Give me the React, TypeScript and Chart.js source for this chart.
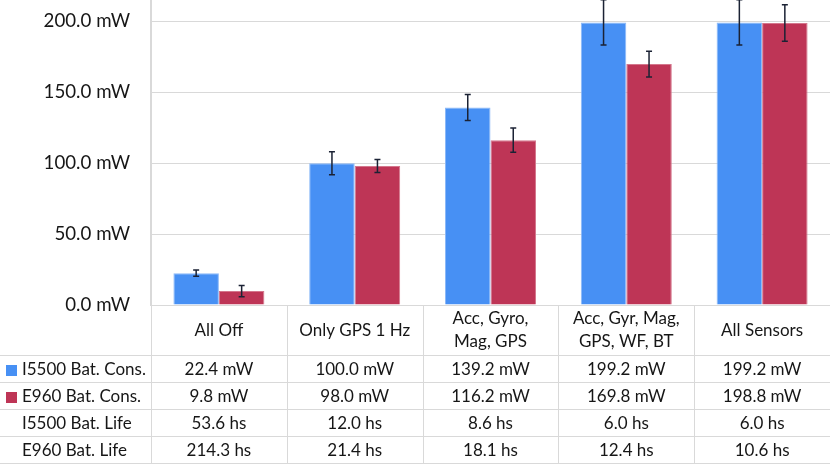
import React, { useEffect, useRef } from "react";
import { Chart, registerables } from "chart.js";

Chart.register(...registerables);

const categories: string[][] = [
  ["All Off"],
  ["Only GPS 1 Hz"],
  ["Acc, Gyro,", "Mag, GPS"],
  ["Acc, Gyr, Mag,", "GPS, WF, BT"],
  ["All Sensors"],
];
const i5500Cons = [22.4, 100.0, 139.2, 199.2, 199.2];
const e960Cons = [9.8, 98.0, 116.2, 169.8, 198.8];
const i5500ConsErr = [2.2, 8.1, 9.2, 16, 16];
const e960ConsErr = [4, 4.6, 8.5, 9, 12.8];
const i5500Life = [53.6, 12.0, 8.6, 6.0, 6.0];
const e960Life = [214.3, 21.4, 18.1, 12.4, 10.6];
const rowLabels = ["I5500 Bat. Cons.", "E960 Bat. Cons.", "I5500 Bat. Life", "E960 Bat. Life"];
const yTicks = [0, 50, 100, 150, 200];

const BLUE = "#4790f4";
const RED = "#be3556";
const GRID = "#d9d9d9";
const TEXT = "#161616";
const FONT = "Lato";

const errorBarPlugin = {
  id: "errorBars",
  afterDatasetsDraw(chart: any) {
    const ctx = chart.ctx;
    const y = chart.scales.y;
    const errs = [i5500ConsErr, e960ConsErr];
    ctx.save();
    ctx.strokeStyle = "#1b2234";
    ctx.lineWidth = 1.5;
    chart.data.datasets.forEach((ds: any, di: number) => {
      const meta = chart.getDatasetMeta(di);
      meta.data.forEach((bar: any, i: number) => {
        const v = ds.data[i];
        const e = errs[di][i];
        const x = bar.x;
        const y1 = y.getPixelForValue(v + e);
        const y2 = y.getPixelForValue(v - e);
        ctx.beginPath();
        ctx.moveTo(x, y1);
        ctx.lineTo(x, y2);
        ctx.moveTo(x - 3, y1);
        ctx.lineTo(x + 3, y1);
        ctx.moveTo(x - 3, y2);
        ctx.lineTo(x + 3, y2);
        ctx.stroke();
      });
    });
    ctx.restore();
  },
};

const tablePlugin = {
  id: "dataTable",
  afterDraw(chart: any) {
    const ctx = chart.ctx;
    const xs = chart.scales.x;
    const area = chart.chartArea;
    const n = categories.length;
    const colW = (area.right - area.left) / n;
    const top = area.bottom;
    const headerH = 51;
    const rowH = 27;
    const bottom = top + headerH + rowH * 4;
    ctx.save();
    ctx.strokeStyle = GRID;
    ctx.lineWidth = 1;
    for (let r = 0; r <= 4; r++) {
      const yy = Math.round(top + headerH + r * rowH) - 0.5;
      ctx.beginPath();
      ctx.moveTo(0, yy);
      ctx.lineTo(chart.width, yy);
      ctx.stroke();
    }
    for (let c = 0; c <= n; c++) {
      const xx = Math.round(area.left + c * colW) + 0.5;
      ctx.beginPath();
      ctx.moveTo(xx, top);
      ctx.lineTo(xx, bottom);
      ctx.stroke();
    }
    ctx.fillStyle = TEXT;
    ctx.font = `17px ${FONT}`;
    ctx.textAlign = "center";
    ctx.textBaseline = "middle";
    categories.forEach((lines, i) => {
      const cx = xs.getPixelForValue(i);
      const cy = top + headerH / 2;
      const lh = 23;
      lines.forEach((t, k) => {
        ctx.fillText(t, cx, cy + (k - (lines.length - 1) / 2) * lh);
      });
    });
    const rows = [
      i5500Cons.map((v) => v.toFixed(1) + " mW"),
      e960Cons.map((v) => v.toFixed(1) + " mW"),
      i5500Life.map((v) => v.toFixed(1) + " hs"),
      e960Life.map((v) => v.toFixed(1) + " hs"),
    ];
    const swatches = [BLUE, RED, null, null];
    rows.forEach((vals, r) => {
      const cy = top + headerH + r * rowH + rowH / 2 + 0.5;
      vals.forEach((t, i) => {
        ctx.textAlign = "center";
        ctx.fillText(t, xs.getPixelForValue(i), cy);
      });
      ctx.textAlign = "left";
      ctx.fillText(rowLabels[r], 22, cy);
      const sw = swatches[r];
      if (sw) {
        ctx.fillStyle = sw;
        ctx.fillRect(6, cy - 5, 11, 11);
        ctx.fillStyle = TEXT;
      }
    });
    ctx.restore();
  },
};

export default function App() {
  const ref = useRef<HTMLCanvasElement | null>(null);
  useEffect(() => {
    document.body.style.margin = "0";
    const canvas = ref.current;
    if (!canvas) return;
    const chart = new Chart(canvas, {
      type: "bar",
      data: {
        labels: categories.map((c) => c.join(" ")),
        datasets: [
          {
            label: rowLabels[0],
            data: i5500Cons,
            backgroundColor: BLUE,
            borderColor: "#8ab8f8",
            borderWidth: 1,
            barPercentage: 1,
            categoryPercentage: 0.67,
          },
          {
            label: rowLabels[1],
            data: e960Cons,
            backgroundColor: RED,
            borderColor: "#d4768c",
            borderWidth: 1,
            barPercentage: 1,
            categoryPercentage: 0.67,
          },
        ],
      },
      options: {
        animation: false,
        responsive: false,
        devicePixelRatio: 1,
        layout: { padding: { top: 0, bottom: 160, right: 0, left: 0 } },
        plugins: { legend: { display: false }, tooltip: { enabled: false } },
        scales: {
          x: { display: false },
          y: {
            min: 0,
            max: 215,
            afterFit(scale: any) {
              scale.width = 151;
              scale.paddingTop = 0;
              scale.paddingBottom = 0;
            },
            afterBuildTicks(scale: any) {
              scale.ticks = yTicks.map((v) => ({ value: v }));
            },
            ticks: {
              padding: 21,
              color: TEXT,
              font: { family: FONT, size: 18.7 },
              callback: (v: any) => Number(v).toFixed(1) + " mW",
            },
            grid: { color: GRID, lineWidth: 1, drawTicks: false },
            border: { color: GRID, width: 2 },
          },
        },
      },
      plugins: [errorBarPlugin, tablePlugin],
    });
    return () => chart.destroy();
  }, []);
  return (
    <div style={{ width: 830, height: 465, background: "#fff" }}>
      <canvas ref={ref} width={830} height={465} />
    </div>
  );
}
